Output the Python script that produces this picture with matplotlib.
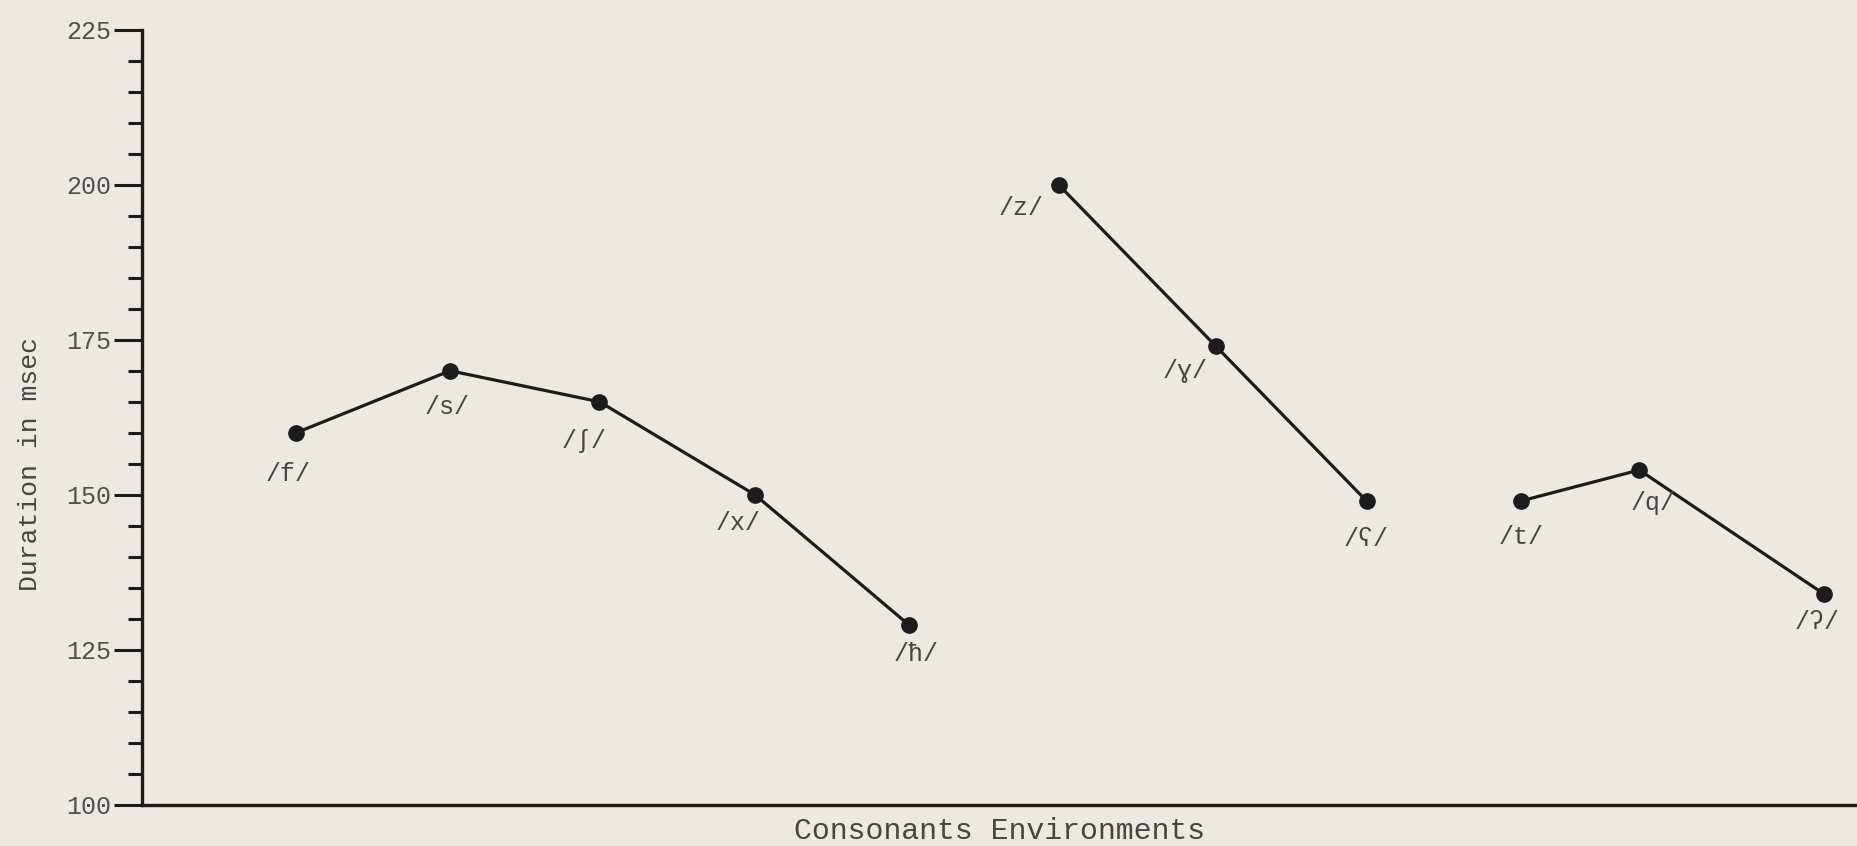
# -*- coding: utf-8 -*-
# duration of vowels by consonant environment (scanned typewriter chart)
import matplotlib.pyplot as plt

# consonant labels, slot positions along the x axis and durations (msec)
fricatives = ['/f/', '/s/', '/ʃ/', '/x/', '/ħ/']
fric_pos = [1, 2, 2.97, 3.98, 4.98]
fric_dur = [160, 170, 165, 150, 129]

voiced = ['/z/', '/ɣ/', '/ʕ/']
voiced_pos = [5.95, 6.97, 7.95]
voiced_dur = [200, 174, 149]

stops = ['/t/', '/q/', '/ʔ/']
stops_pos = [8.95, 9.72, 10.92]
stops_dur = [149, 154, 134]

y_ticks = [100, 125, 150, 175, 200, 225]

# where each label sits relative to its dot (points)
offsets = [(-6, -30), (-2, -26), (-11, -28), (-12, -20), (5, -21),
           (-27, -17), (-22, -18), (0, -27),
           (0, -26), (10, -24), (-5, -20)]

bg = '#ece9e2'
ink = '#1c1c1c'
txt = '#454545'
mono = ['Liberation Mono', 'DejaVu Sans Mono']

fig = plt.figure(figsize=(18.58, 8.46), dpi=100, facecolor=bg)
ax = fig.add_axes([0.0764, 0.0485, 0.9236, 0.9165])
ax.set_facecolor(bg)

names = fricatives + voiced + stops
xs = fric_pos + voiced_pos + stops_pos
ys = fric_dur + voiced_dur + stops_dur

# three separate groups, each its own line
for pos, dur in [(fric_pos, fric_dur), (voiced_pos, voiced_dur),
                 (stops_pos, stops_dur)]:
    ax.plot(pos, dur, color=ink, linewidth=2.3, marker='o',
            markersize=11, markerfacecolor=ink, markeredgecolor=ink)

for name, x, y, off in zip(names, xs, ys, offsets):
    ax.annotate(name, (x, y), xytext=off, textcoords='offset points',
                ha='center', va='center', fontsize=18, color=txt,
                family=mono)

ax.set_xlim(0, 11.14)
ax.set_ylim(100, 225)
ax.set_xticks([])
ax.set_yticks(y_ticks)
ax.set_yticks(range(100, 226, 5), minor=True)
ax.set_yticklabels([str(t) for t in y_ticks], family=mono, fontsize=18,
                   color='#505050')
ax.tick_params(axis='y', which='major', length=20, width=2.2, pad=2,
               color=ink)
ax.tick_params(axis='y', which='minor', length=10, width=2.2, color=ink)

for side in ['top', 'right']:
    ax.spines[side].set_visible(False)
for side in ['left', 'bottom']:
    ax.spines[side].set_linewidth(2.4)
    ax.spines[side].set_color(ink)

ax.set_ylabel('Duration in msec', family=mono, fontsize=19, color=txt)
ax.yaxis.set_label_coords(-0.058, 0.44)
ax.set_xlabel('Consonants Environments', family=mono, fontsize=21.5,
              color=txt, va='top')
ax.xaxis.set_label_coords(0.5, -0.016)

fig.savefig('out.png', dpi=100, facecolor=bg)
